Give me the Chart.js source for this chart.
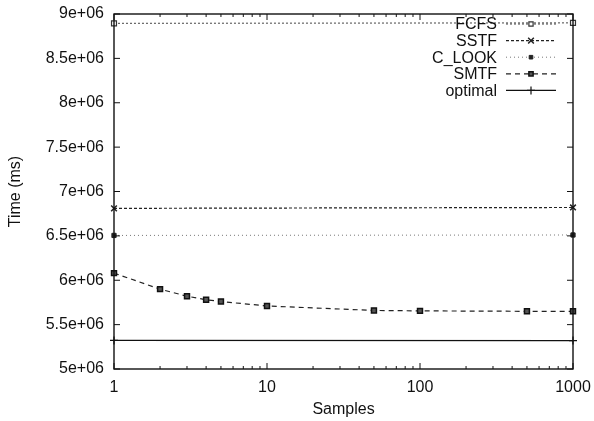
<!DOCTYPE html>
<html>
<head>
<meta charset="utf-8">
<script src="https://cdn.jsdelivr.net/npm/chart.js@4/dist/chart.umd.min.js"></script>
<style>
  html, body { margin: 0; padding: 0; background: #fff; }
  #wrap { width: 594px; height: 421px; }
</style>
</head>
<body>
<div id="wrap"><canvas id="c" width="594" height="421"></canvas></div>
<script>
// ---- data ----
const samplesAll = [1, 2, 3, 4, 5, 10, 50, 100, 500, 1000];
const samplesEnds = [1, 1000];
const fcfsTime = [8.895e6, 8.9e6];
const sstfTime = [6.81e6, 6.82e6];
const clookTime = [6.505e6, 6.51e6];
const smtfTime = [6.08e6, 5.90e6, 5.82e6, 5.78e6, 5.76e6, 5.71e6, 5.66e6, 5.655e6, 5.65e6, 5.65e6];
const optimalTime = [5.322e6, 5.32e6];
const seriesNames = ['FCFS', 'SSTF', 'C_LOOK', 'SMTF', 'optimal'];
const xMajorTicks = [1, 10, 100, 1000];
const xMinorTicks = [2,3,4,5,6,7,8,9,20,30,40,50,60,70,80,90,200,300,400,500,600,700,800,900];
const yMin = 5e6, yMax = 9e6, yStep = 5e5;

const FONT = "'Liberation Sans', Arial, Helvetica, sans-serif";
Chart.defaults.font.family = FONT;
Chart.defaults.font.size = 16;
Chart.defaults.color = '#111';

function pts(xs, ys) { return xs.map((x, i) => ({ x: x, y: ys[i] })); }

const datasets = [
  { label: seriesNames[0], data: pts(samplesEnds, fcfsTime), borderColor: '#444', borderWidth: 1, borderDash: [2, 2],
    pointStyle: 'rect', pointRadius: 3.5, pointBackgroundColor: '#fff', pointBorderColor: '#333', pointBorderWidth: 1.2 },
  { label: seriesNames[1], data: pts(samplesEnds, sstfTime), borderColor: '#222', borderWidth: 1.2, borderDash: [3, 2],
    pointStyle: 'crossRot', pointRadius: 4, pointBackgroundColor: '#222', pointBorderColor: '#222', pointBorderWidth: 1.5 },
  { label: seriesNames[2], data: pts(samplesEnds, clookTime), borderColor: '#777', borderWidth: 1, borderDash: [1, 3],
    pointStyle: 'rect', pointRadius: 3, pointBackgroundColor: '#222', pointBorderColor: '#222', pointBorderWidth: 1 },
  { label: seriesNames[3], data: pts(samplesAll, smtfTime), borderColor: '#222', borderWidth: 1.2, borderDash: [5, 4],
    pointStyle: 'rect', pointRadius: 3.5, pointBackgroundColor: '#555', pointBorderColor: '#111', pointBorderWidth: 1.5 },
  { label: seriesNames[4], data: pts(samplesEnds, optimalTime), borderColor: '#111', borderWidth: 1.3, borderDash: [],
    pointStyle: 'cross', pointRadius: 4, pointBackgroundColor: '#111', pointBorderColor: '#111', pointBorderWidth: 1.2 }
].map(d => Object.assign(d, { fill: false, tension: 0, clip: false, showLine: true }));

function drawMarker(ctx, ds, x, y) {
  const r = ds.pointRadius;
  ctx.save();
  ctx.lineWidth = ds.pointBorderWidth;
  ctx.strokeStyle = ds.pointBorderColor;
  ctx.fillStyle = ds.pointBackgroundColor;
  ctx.setLineDash([]);
  ctx.beginPath();
  if (ds.pointStyle === 'rect') {
    const s = r * Math.SQRT1_2 * 2 * 0.85;
    ctx.rect(x - s / 2, y - s / 2, s, s);
    ctx.fill(); ctx.stroke();
  } else if (ds.pointStyle === 'cross') {
    ctx.moveTo(x, y - r); ctx.lineTo(x, y + r);
    ctx.moveTo(x - r, y); ctx.lineTo(x + r, y);
    ctx.stroke();
  } else if (ds.pointStyle === 'crossRot') {
    const d = r * Math.SQRT1_2;
    ctx.moveTo(x - d, y - d); ctx.lineTo(x + d, y + d);
    ctx.moveTo(x - d, y + d); ctx.lineTo(x + d, y - d);
    ctx.stroke();
  }
  ctx.restore();
}

const framePlugin = {
  id: 'gnuframe',
  afterDatasetsDraw(chart) {
    const ctx = chart.ctx, a = chart.chartArea;
    const xs = chart.scales.x, ys = chart.scales.y;
    ctx.save();
    ctx.strokeStyle = '#111';
    ctx.lineWidth = 1.4;
    ctx.setLineDash([]);
    ctx.strokeRect(a.left, a.top, a.right - a.left, a.bottom - a.top);
    ctx.lineWidth = 1;
    ctx.beginPath();
    const tick = (v, len) => {
      const px = xs.getPixelForValue(v);
      ctx.moveTo(px, a.bottom); ctx.lineTo(px, a.bottom - len);
      ctx.moveTo(px, a.top); ctx.lineTo(px, a.top + len);
    };
    xMajorTicks.forEach(v => tick(v, 6));
    xMinorTicks.forEach(v => tick(v, 3));
    for (let v = yMin; v <= yMax + 1; v += yStep) {
      const py = ys.getPixelForValue(v);
      ctx.moveTo(a.left, py); ctx.lineTo(a.left + 6, py);
      ctx.moveTo(a.right, py); ctx.lineTo(a.right - 6, py);
    }
    ctx.stroke();
    ctx.restore();
  },
  afterDraw(chart) {
    const ctx = chart.ctx;
    const textRight = 497, lineL = 506, lineR = 556, mk = 531;
    ctx.save();
    ctx.font = '16px ' + FONT;
    ctx.textAlign = 'right';
    ctx.textBaseline = 'middle';
    chart.data.datasets.forEach((ds, i) => {
      const y = 24 + i * 16.6;
      ctx.fillStyle = '#111';
      ctx.fillText(ds.label, textRight, y + 1);
      ctx.save();
      ctx.strokeStyle = ds.borderColor;
      ctx.lineWidth = ds.borderWidth;
      ctx.setLineDash(ds.borderDash || []);
      ctx.beginPath();
      ctx.moveTo(lineL, y); ctx.lineTo(lineR, y);
      ctx.stroke();
      ctx.restore();
      drawMarker(ctx, ds, mk, y);
    });
    ctx.restore();
  }
};

new Chart(document.getElementById('c'), {
  type: 'line',
  data: { datasets: datasets },
  options: {
    responsive: false,
    animation: false,
    layout: { padding: { top: 14, right: 21, left: 0, bottom: 0 } },
    plugins: { legend: { display: false }, tooltip: { enabled: false } },
    scales: {
      x: {
        type: 'logarithmic', min: 1, max: 1000,
        grid: { display: false, drawTicks: false },
        border: { display: false },
        afterBuildTicks: s => { s.ticks = xMajorTicks.map(v => ({ value: v })); },
        ticks: { autoSkip: false, maxRotation: 0, padding: 9, color: '#111',
                 callback: v => String(v) },
        title: { display: true, text: 'Samples', color: '#111', padding: { top: 0, bottom: 2 } },
        afterFit: s => { s.height = 52; s.paddingLeft = 0; s.paddingRight = 0; }
      },
      y: {
        type: 'linear', min: yMin, max: yMax,
        grid: { display: false, drawTicks: false },
        border: { display: false },
        ticks: { stepSize: yStep, padding: 10, color: '#111',
                 callback: v => (Math.round(v / 1e5) / 10) + 'e+06' },
        title: { display: true, text: 'Time (ms)', color: '#111', padding: { top: 6, bottom: 0 } },
        afterFit: s => { s.width = 114; s.paddingTop = 0; s.paddingBottom = 0; }
      }
    }
  },
  plugins: [framePlugin]
});
</script>
</body>
</html>
